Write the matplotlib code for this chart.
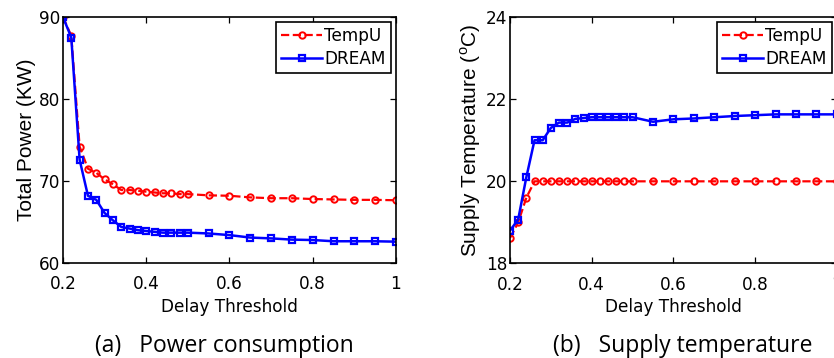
import numpy as np
import matplotlib
matplotlib.use("Agg")
import matplotlib.pyplot as plt

plt.rcParams['font.family'] = ['DejaVu Sans']
plt.rcParams['mathtext.fontset'] = 'custom'
plt.rcParams['mathtext.rm'] = 'Liberation Sans'

# delay thresholds (x axis of both panels)
delay = [0.20, 0.22, 0.24, 0.26, 0.28, 0.30, 0.32, 0.34, 0.36, 0.38, 0.40,
         0.42, 0.44, 0.46, 0.48, 0.50, 0.55, 0.60, 0.65, 0.70, 0.75, 0.80,
         0.85, 0.90, 0.95, 1.00]

# (a) total power, KW
power_tempu = [90.0, 87.7, 74.2, 71.5, 71.0, 70.2, 69.6, 68.9, 68.9, 68.8, 68.7,
               68.6, 68.5, 68.5, 68.4, 68.4, 68.25, 68.2, 68.0, 67.9, 67.9, 67.8,
               67.75, 67.7, 67.7, 67.65]
power_dream = [90.0, 87.5, 72.6, 68.2, 67.7, 66.1, 65.2, 64.4, 64.2, 64.0, 63.9,
               63.8, 63.7, 63.7, 63.7, 63.7, 63.6, 63.4, 63.1, 63.0, 62.85, 62.8,
               62.65, 62.65, 62.65, 62.6]

# (b) supply temperature, C
temp_tempu = [18.62, 19.0, 19.6, 20.0, 20.0, 20.0, 20.0, 20.0, 20.0, 20.0, 20.0,
              20.0, 20.0, 20.0, 20.0, 20.0, 20.0, 20.0, 20.0, 20.0, 20.0, 20.0,
              20.0, 20.0, 20.0, 20.0]
temp_dream = [18.8, 19.07, 20.1, 21.0, 21.0, 21.3, 21.43, 21.43, 21.52, 21.54, 21.56,
              21.56, 21.56, 21.56, 21.56, 21.56, 21.45, 21.51, 21.53, 21.56, 21.59, 21.61,
              21.63, 21.63, 21.63, 21.63]

fig = plt.figure(figsize=(8.34, 3.58), dpi=100)
ax1 = fig.add_axes([0.0755, 0.2654, 0.3993, 0.6871])
ax2 = fig.add_axes([0.6115, 0.2640, 0.3920, 0.6885])

FS = 12.2


def draw(ax, y1, y2, ylim, yticks, ylabel):
    ax.plot(delay, y1, color='red', linestyle='--', linewidth=1.6,
            marker='o', markersize=4.6, markerfacecolor='none',
            markeredgewidth=1.4, label='TempU')
    ax.plot(delay, y2, color='blue', linestyle='-', linewidth=1.8,
            marker='s', markersize=4.4, markerfacecolor='none',
            markeredgewidth=1.6, label='DREAM')
    ax.set_xlim(0.2, 1.0)
    ax.set_ylim(*ylim)
    ax.set_xticks([0.2, 0.4, 0.6, 0.8, 1.0])
    ax.set_xticklabels(['0.2', '0.4', '0.6', '0.8', '1'])
    ax.set_yticks(yticks)
    ax.tick_params(direction='in', top=True, right=True, length=4,
                   width=0.9, labelsize=FS)
    ax.tick_params(axis='x', pad=9)
    ax.tick_params(axis='y', pad=2)
    for s in ax.spines.values():
        s.set_linewidth(1.2)
    ax.set_xlabel('Delay Threshold', fontsize=FS, labelpad=3)
    ax.set_ylabel(ylabel, fontsize=15, family='Liberation Sans', labelpad=2)
    leg = ax.legend(loc='upper right', fontsize=FS, fancybox=False,
                    edgecolor='black', framealpha=1, handlelength=2.4,
                    handletextpad=0.15, borderpad=0.3, labelspacing=0.3,
                    borderaxespad=0.3)
    leg.get_frame().set_linewidth(1.2)


draw(ax1, power_tempu, power_dream, (60, 90), [60, 70, 80, 90], 'Total Power (KW)')
draw(ax2, temp_tempu, temp_dream, (18, 24), [18, 20, 22, 24],
     r'Supply Temperature ($^{\mathrm{o}}$C)')

# sub-captions under each panel
fig.text(0.2686, 0.0168, '(a)   Power consumption', ha='center', va='baseline',
         fontsize=16.5, family='Open Sans')
fig.text(0.819, 0.0168, '(b)   Supply temperature', ha='center', va='baseline',
         fontsize=16.5, family='Open Sans')

fig.savefig('out.png', dpi=100)
